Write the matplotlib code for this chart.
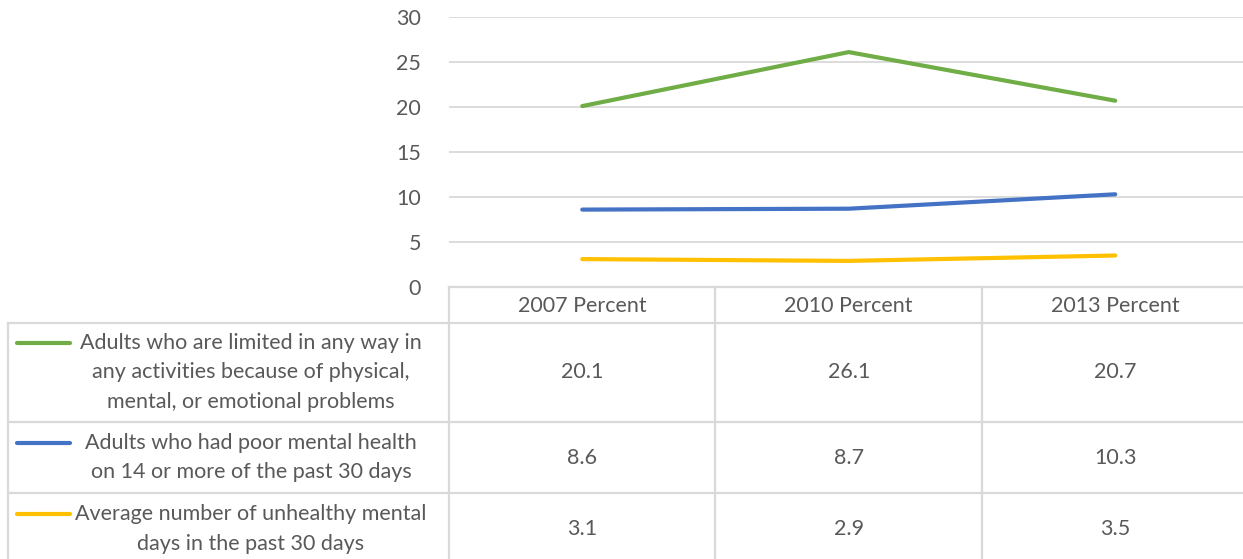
import matplotlib.pyplot as plt

categories = ["2007 Percent", "2010 Percent", "2013 Percent"]
series_names = [
    "Adults who are limited in any way in\nany activities because of physical,\nmental, or emotional problems",
    "Adults who had poor mental health\non 14 or more of the past 30 days",
    "Average number of unhealthy mental\ndays in the past 30 days",
]
limited = [20.1, 26.1, 20.7]
poor_mental = [8.6, 8.7, 10.3]
unhealthy_days = [3.1, 2.9, 3.5]
colors = ["#70AD47", "#4472C4", "#FFC000"]

W, H = 1243, 559
plt.rcParams['font.family'] = ['Lato', 'DejaVu Sans']
text_c = "#595959"
grid_c = "#D9D9D9"
fs = 15.5

fig = plt.figure(figsize=(W / 100, H / 100), dpi=100)

# pixel layout
left, col_w = 449, 266.5
y_top, y_zero = 17, 287
rows = [287, 323, 422, 493, 565]

ax = fig.add_axes([left / W, 1 - y_zero / H, 3 * col_w / W, (y_zero - y_top) / H])
x = range(len(categories))
for vals, c in zip([limited, poor_mental, unhealthy_days], colors):
    ax.plot(x, vals, color=c, lw=3, solid_capstyle='round', zorder=3)
ax.set_xlim(-0.5, len(categories) - 0.5)
ax.set_ylim(0, 30)
ax.set_yticks(range(0, 31, 5))
ax.yaxis.grid(True, color=grid_c, lw=1.3)
ax.set_xticks([])
for s in ax.spines.values():
    s.set_visible(False)
ax.tick_params(axis='y', length=0, pad=20, labelsize=fs, labelcolor=text_c)

# data table drawn in pixel coords
tb = fig.add_axes([0, 0, 1, 1], facecolor='none')
tb.set_xlim(0, W)
tb.set_ylim(H, 0)
tb.axis('off')
lw = 1.6
right = left + 3 * col_w
tb.plot([left, right], [rows[0], rows[0]], color=grid_c, lw=lw)
for r in rows[1:4]:
    tb.plot([8, right], [r, r], color=grid_c, lw=lw)
tb.plot([8, 8], [rows[1], H], color=grid_c, lw=lw)
for i in range(len(categories) + 1):
    xx = left + i * col_w
    tb.plot([xx, xx], [rows[0], H], color=grid_c, lw=lw)

for i, cat in enumerate(categories):
    cx = left + (i + 0.5) * col_w
    tb.text(cx, (rows[0] + rows[1]) / 2 + 1, cat, ha='center', va='center',
            fontsize=fs, color=text_c)

all_vals = [limited, poor_mental, unhealthy_days]
line_h = 29.5
for j, (name, vals, c) in enumerate(zip(series_names, all_vals, colors)):
    cy = (rows[j + 1] + rows[j + 2]) / 2
    n = name.count("\n") + 1
    first_y = cy - (n - 1) * line_h / 2
    for k, ln in enumerate(name.split("\n")):
        tb.text(251, first_y + k * line_h, ln, ha='center', va='center',
                fontsize=fs, color=text_c)
    tb.plot([17, 70], [first_y, first_y], color=c, lw=3, solid_capstyle='round')
    for i, v in enumerate(vals):
        cx = left + (i + 0.5) * col_w
        tb.text(cx, cy, f"{v:.1f}", ha='center', va='center',
                fontsize=fs, color=text_c)

fig.savefig("out.png", dpi=100)
